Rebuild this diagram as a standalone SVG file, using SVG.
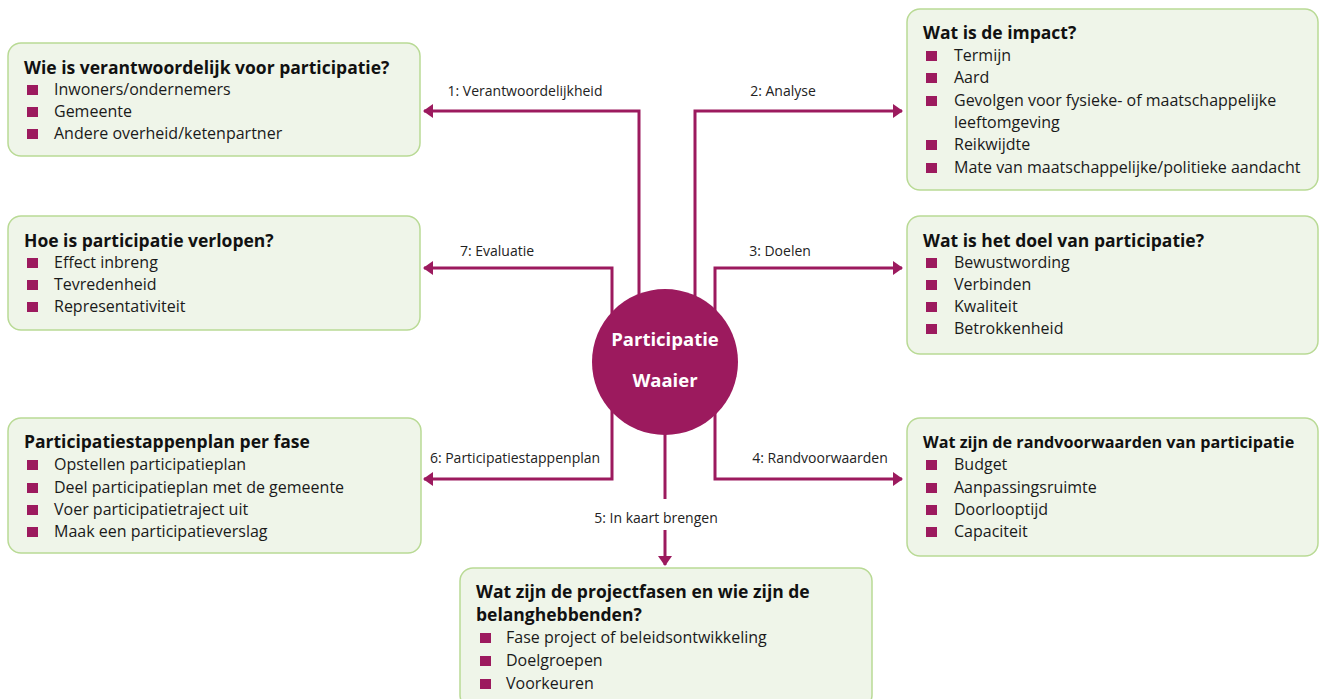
<svg xmlns="http://www.w3.org/2000/svg" width="1319" height="699" viewBox="0 0 1319 699">
<defs>
<style>
.box{fill:#eff5e9;stroke:#b9da95;stroke-width:1.5}
.t{font-family:"Open Sans","Noto Sans",sans-serif;font-size:17.5px;font-weight:bold;fill:#111}
.i{font-family:"Open Sans","Noto Sans",sans-serif;font-size:16px;fill:#1a1a1a}
.b{fill:#9c1a5e}
.lbl{font-family:"Open Sans","Noto Sans",sans-serif;font-size:14px;fill:#222}
.ln{fill:none;stroke:#9c1a5e;stroke-width:3}
.ct{font-family:"Open Sans","Noto Sans",sans-serif;font-size:18.5px;font-weight:bold;fill:#fff;text-anchor:middle}
</style>
<marker id="ah" viewBox="0 0 10 14" refX="9" refY="7" markerWidth="10" markerHeight="14" markerUnits="userSpaceOnUse" orient="auto">
<path d="M0,0 L10,7 L0,14 Z" fill="#9c1a5e"/>
</marker>
</defs>
<rect width="1319" height="699" fill="#fff"/>

<g id="connectors">
<path class="ln" d="M639,300 V111 H424" marker-end="url(#ah)"/>
<path class="ln" d="M695,300 V111 H902" marker-end="url(#ah)"/>
<path class="ln" d="M612,320 V268 H424" marker-end="url(#ah)"/>
<path class="ln" d="M715,320 V268 H902" marker-end="url(#ah)"/>
<path class="ln" d="M612,400 V479 H424" marker-end="url(#ah)"/>
<path class="ln" d="M715,400 V479 H902" marker-end="url(#ah)"/>
<path class="ln" d="M665,420 V499"/>
<path class="ln" d="M665,530 V565" marker-end="url(#ah)"/>
<text class="lbl" x="525" y="96" text-anchor="middle">1: Verantwoordelijkheid</text>
<text class="lbl" x="783" y="96" text-anchor="middle">2: Analyse</text>
<text class="lbl" x="497" y="256" text-anchor="middle">7: Evaluatie</text>
<text class="lbl" x="780" y="256" text-anchor="middle">3: Doelen</text>
<text class="lbl" x="515" y="463" text-anchor="middle">6: Participatiestappenplan</text>
<text class="lbl" x="820" y="463" text-anchor="middle">4: Randvoorwaarden</text>
<text class="lbl" x="656" y="523" text-anchor="middle">5: In kaart brengen</text>
</g>

<g id="center">
<circle cx="665" cy="362" r="73" fill="#9c1a5e"/>
<text class="ct" x="665" y="346">Participatie</text>
<text class="ct" x="665" y="387">Waaier</text>
</g>

<g id="n1">
<rect class="box" x="8" y="43" width="412" height="113" rx="13"/>
<text class="t" x="24" y="74">Wie is verantwoordelijk voor participatie?</text>
<rect class="b" x="27" y="85" width="11" height="10"/><text class="i" x="54" y="95">Inwoners/ondernemers</text>
<rect class="b" x="27" y="107" width="11" height="10"/><text class="i" x="54" y="117">Gemeente</text>
<rect class="b" x="27" y="129" width="11" height="10"/><text class="i" x="54" y="139">Andere overheid/ketenpartner</text>
</g>

<g id="n2">
<rect class="box" x="907" y="9" width="411" height="181" rx="13"/>
<text class="t" x="923" y="39">Wat is de impact?</text>
<rect class="b" x="926" y="51" width="11" height="10"/><text class="i" x="954" y="61">Termijn</text>
<rect class="b" x="926" y="73" width="11" height="10"/><text class="i" x="954" y="83">Aard</text>
<rect class="b" x="926" y="96" width="11" height="10"/><text class="i" x="954" y="106">Gevolgen voor fysieke- of maatschappelijke</text>
<text class="i" x="954" y="128">leeftomgeving</text>
<rect class="b" x="926" y="140" width="11" height="10"/><text class="i" x="954" y="150">Reikwijdte</text>
<rect class="b" x="926" y="163" width="11" height="10"/><text class="i" x="954" y="173">Mate van maatschappelijke/politieke aandacht</text>
</g>

<g id="n7">
<rect class="box" x="8" y="216" width="412" height="114" rx="13"/>
<text class="t" x="24" y="247">Hoe is participatie verlopen?</text>
<rect class="b" x="27" y="258" width="11" height="10"/><text class="i" x="54" y="268">Effect inbreng</text>
<rect class="b" x="27" y="280" width="11" height="10"/><text class="i" x="54" y="290">Tevredenheid</text>
<rect class="b" x="27" y="302" width="11" height="10"/><text class="i" x="54" y="312">Representativiteit</text>
</g>

<g id="n3">
<rect class="box" x="907" y="216" width="411" height="138" rx="13"/>
<text class="t" x="923" y="247">Wat is het doel van participatie?</text>
<rect class="b" x="926" y="258" width="11" height="10"/><text class="i" x="954" y="268">Bewustwording</text>
<rect class="b" x="926" y="280" width="11" height="10"/><text class="i" x="954" y="290">Verbinden</text>
<rect class="b" x="926" y="302" width="11" height="10"/><text class="i" x="954" y="312">Kwaliteit</text>
<rect class="b" x="926" y="324" width="11" height="10"/><text class="i" x="954" y="334">Betrokkenheid</text>
</g>

<g id="n6">
<rect class="box" x="8" y="418" width="413" height="135" rx="13"/>
<text class="t" x="24" y="448">Participatiestappenplan per fase</text>
<rect class="b" x="27" y="460" width="11" height="10"/><text class="i" x="54" y="470">Opstellen participatieplan</text>
<rect class="b" x="27" y="483" width="11" height="10"/><text class="i" x="54" y="493">Deel participatieplan met de gemeente</text>
<rect class="b" x="27" y="505" width="11" height="10"/><text class="i" x="54" y="515">Voer participatietraject uit</text>
<rect class="b" x="27" y="527" width="11" height="10"/><text class="i" x="54" y="537">Maak een participatieverslag</text>
</g>

<g id="n4">
<rect class="box" x="907" y="418" width="411" height="138" rx="13"/>
<text class="t" x="923" y="448" style="font-size:16.2px">Wat zijn de randvoorwaarden van participatie</text>
<rect class="b" x="926" y="460" width="11" height="10"/><text class="i" x="954" y="470">Budget</text>
<rect class="b" x="926" y="483" width="11" height="10"/><text class="i" x="954" y="493">Aanpassingsruimte</text>
<rect class="b" x="926" y="505" width="11" height="10"/><text class="i" x="954" y="515">Doorlooptijd</text>
<rect class="b" x="926" y="527" width="11" height="10"/><text class="i" x="954" y="537">Capaciteit</text>
</g>

<g id="n5">
<rect class="box" x="460" y="568" width="412" height="140" rx="13"/>
<text class="t" x="476" y="598">Wat zijn de projectfasen en wie zijn de</text>
<text class="t" x="476" y="621">belanghebbenden?</text>
<rect class="b" x="480" y="633" width="11" height="10"/><text class="i" x="506" y="643">Fase project of beleidsontwikkeling</text>
<rect class="b" x="480" y="656" width="11" height="10"/><text class="i" x="506" y="666">Doelgroepen</text>
<rect class="b" x="480" y="679" width="11" height="10"/><text class="i" x="506" y="689">Voorkeuren</text>
</g>
</svg>
